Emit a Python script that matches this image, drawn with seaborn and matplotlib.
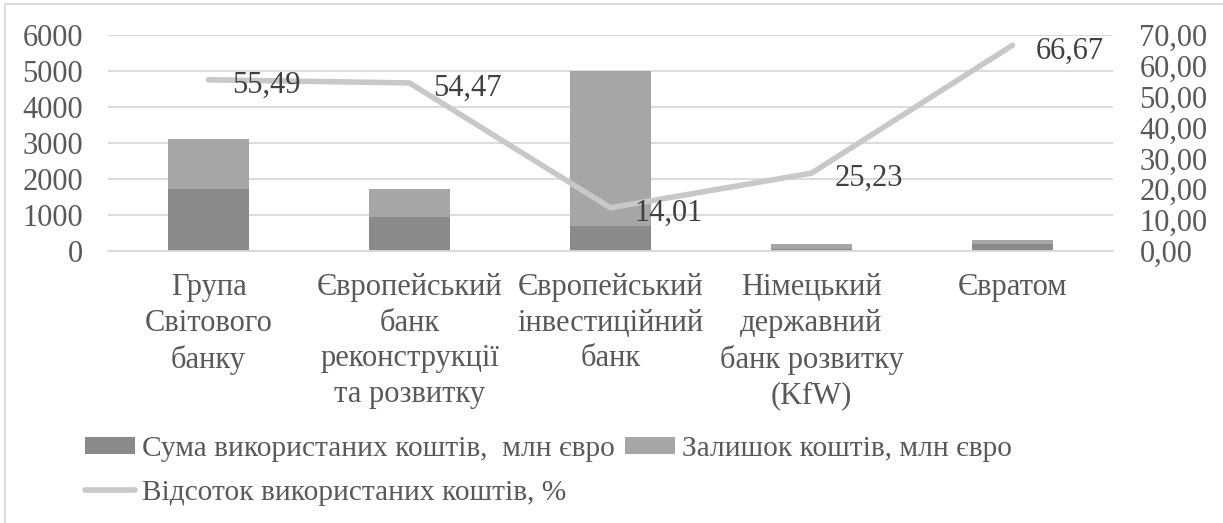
"""Stacked bars of used / remaining funds with a share-used line on a second axis."""

import matplotlib
matplotlib.use("Agg")
import matplotlib.pyplot as plt
from matplotlib.patches import Patch, Rectangle
from matplotlib.lines import Line2D
import numpy as np
import pandas as pd
import seaborn as sns

categories = [
    "Група\nСвітового\nбанку",
    "Європейський\nбанк\nреконструкції\nта розвитку",
    "Європейський\nінвестиційний\nбанк",
    "Німецький\nдержавний\nбанк розвитку\n(KfW)",
    "Євратом",
]
used_funds = [1726, 937, 700, 50, 200]
remaining_funds = [1384, 783, 4300, 148, 100]
used_pct = [55.49, 54.47, 14.01, 25.23, 66.67]

label_used = "Сума використаних коштів,  млн євро"
label_left = "Залишок коштів, млн євро"
label_pct = "Відсоток використаних коштів, %"

c_used = "#8a8a8a"
c_left = "#a6a6a6"
c_line = "#c8c8c8"
c_text = "#595959"
fs = 22

sns.set_theme(style="white")
plt.rcParams["font.family"] = ["Liberation Serif", "DejaVu Serif"]
plt.rcParams["font.size"] = fs

df = pd.DataFrame({
    "category": categories,
    "used": used_funds,
    "total": np.array(used_funds) + np.array(remaining_funds),
    "pct": used_pct,
})

fig = plt.figure(figsize=(12.23, 5.23), dpi=100)
ax = fig.add_axes([108 / 1223, 1 - 251 / 523, (1113 - 108) / 1223, 216 / 523])

sns.barplot(data=df, x="category", y="total", color=c_left, width=0.4,
            linewidth=0, saturation=1, ax=ax)
sns.barplot(data=df, x="category", y="used", color=c_used, width=0.4,
            linewidth=0, saturation=1, ax=ax)
ax.set_ylim(0, 6000)
ax.set_yticks(range(0, 6001, 1000))
ax.set_xlim(-0.5, len(categories) - 0.5)
ax.yaxis.grid(True, color="#d9d9d9", linewidth=1.3)
ax.set_axisbelow(True)
for s in ["top", "right", "left"]:
    ax.spines[s].set_visible(False)
ax.spines["bottom"].set_color("#d9d9d9")
ax.spines["bottom"].set_linewidth(1.3)
ax.set_xlabel("")
ax.set_ylabel("")
ax.tick_params(axis="y", length=0, pad=18, labelsize=fs, labelcolor=c_text)
ax.tick_params(axis="x", length=0, pad=16, labelsize=fs, labelcolor=c_text)
for t in ax.get_xticklabels():
    t.set_linespacing(1.3)

ax2 = ax.twinx()
sns.lineplot(x=np.arange(len(categories)), y=df["pct"], color=c_line,
             linewidth=4, ax=ax2)
ax2.set_ylim(0, 70)
ax2.set_yticks(range(0, 71, 10))
ax2.set_yticklabels([f"{v:.2f}".replace(".", ",") for v in range(0, 71, 10)])
ax2.set_ylabel("")
ax2.tick_params(axis="y", length=0, pad=19, labelsize=fs, labelcolor=c_text)
for s in ax2.spines.values():
    s.set_visible(False)

for i, v in enumerate(used_pct):
    ax2.annotate(f"{v:.2f}".replace(".", ","), (i, v), xytext=(17, -4),
                 textcoords="offset points", ha="left", va="center",
                 fontsize=fs, color="#404040")

handles = [
    Patch(facecolor=c_used, edgecolor="none", label=label_used),
    Line2D([], [], color=c_line, linewidth=4, label=label_pct),
    Patch(facecolor=c_left, edgecolor="none", label=label_left),
]
fig.legend(handles=handles, loc="upper left", ncol=2,
           bbox_to_anchor=(85 / 1223, 1 - 436 / 523), frameon=False,
           fontsize=21.2, labelcolor=c_text, handlelength=1.7, handleheight=0.48,
           handletextpad=0.24, columnspacing=0.34, labelspacing=0.6,
           borderaxespad=0, borderpad=0)

fig.patches.append(Rectangle((5 / 1223, -0.2), 1.2, 1.2 - 4 / 523,
                             transform=fig.transFigure, fill=False,
                             edgecolor="#d9d9d9", linewidth=1.3))

fig.savefig("out.png", dpi=100)
